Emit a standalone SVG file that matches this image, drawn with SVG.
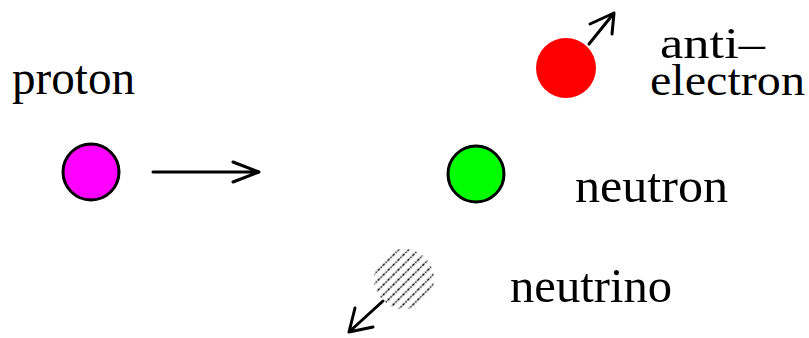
<svg xmlns="http://www.w3.org/2000/svg" width="809" height="338" viewBox="0 0 809 338">
<style>
.lbl{font-family:"Liberation Serif","Times New Roman",serif;font-size:48px;fill:#000}
.sm{font-size:45px}
.ball{stroke:#000;stroke-width:3}
.con{stroke:#000;stroke-width:3;fill:none;stroke-linecap:round;stroke-linejoin:round}
</style>
<defs>
<pattern id="hatch" patternUnits="userSpaceOnUse" width="7" height="7" patternTransform="rotate(-45)">
<line x1="0" y1="3.5" x2="7" y2="3.5" stroke="#000" stroke-width="1.6" stroke-dasharray="1.6 1.2"/>
</pattern>
</defs>
<rect width="809" height="338" fill="#fff"/>
<g id="proton">
<circle class="ball" cx="91" cy="172" r="28" fill="#ff00ff"/>
<text class="lbl" x="12" y="94" textLength="123" lengthAdjust="spacingAndGlyphs">proton</text>
</g>
<g id="neutron">
<circle class="ball" cx="476" cy="174" r="28" fill="#00ff00"/>
<text class="lbl" x="575" y="202" textLength="153" lengthAdjust="spacingAndGlyphs">neutron</text>
</g>
<g id="antielectron">
<circle cx="566" cy="68" r="30" fill="#ff0000"/>
<text class="lbl sm" x="660" y="58" textLength="105" lengthAdjust="spacingAndGlyphs">anti–</text>
<text class="lbl sm" x="650" y="95" textLength="155" lengthAdjust="spacingAndGlyphs">electron</text>
</g>
<g id="neutrino">
<circle cx="404" cy="279" r="30" fill="url(#hatch)"/>
<text class="lbl" x="510" y="302" textLength="162" lengthAdjust="spacingAndGlyphs">neutrino</text>
</g>
<g id="connectors">
<path class="con" d="M153 172 H259 M233 162 L259 172 L233 182"/>
<path class="con" d="M589 44 L614 13 M590 24 L614 13 L612 34"/>
<path class="con" stroke-width="3.5" d="M383 301 L349 332 M355 308 L349 332 L373 327"/>
</g>
</svg>
